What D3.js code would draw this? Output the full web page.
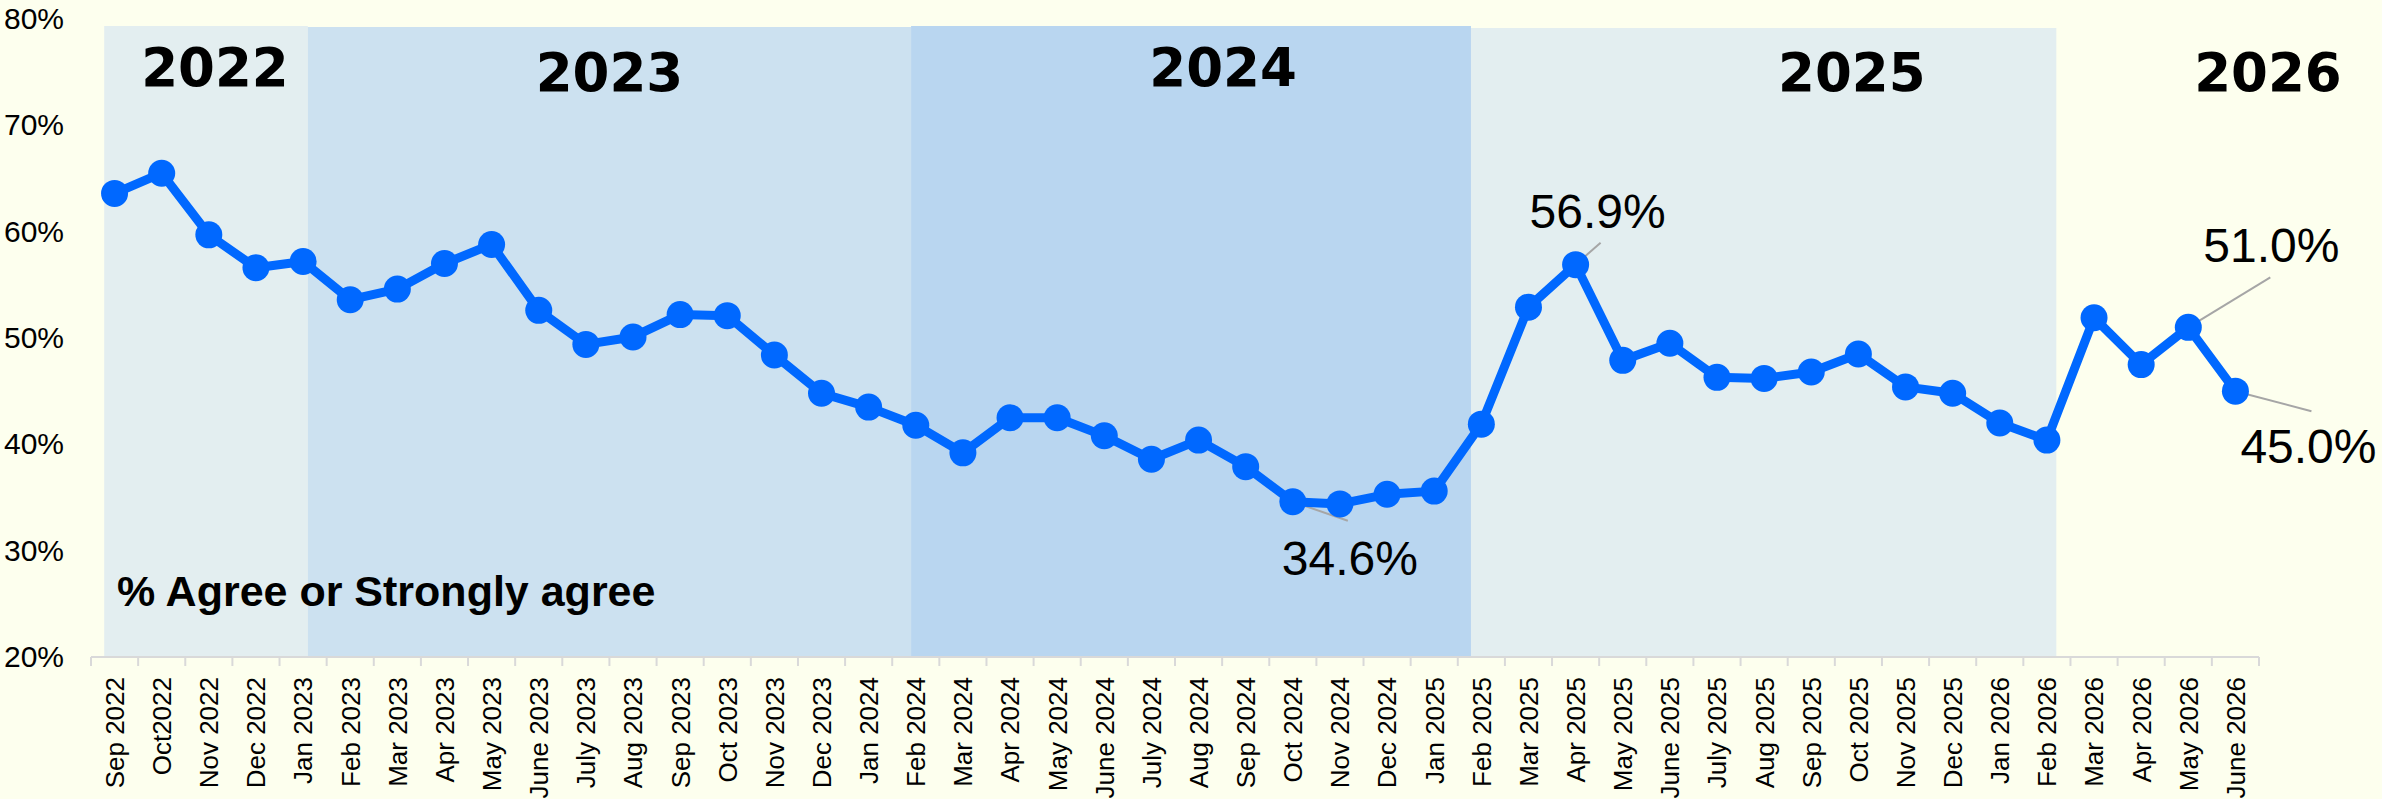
<!DOCTYPE html>
<html>
<head>
<meta charset="utf-8">
<script src="https://cdn.jsdelivr.net/npm/d3@7"></script>
<style>
  body { margin: 0; background: #FDFFEE; }
  svg { display: block; }
</style>
</head>
<body>
<div id="chart"></div>
<script>
// monthly survey, % agree or strongly agree
var months = ["Sep 2022","Oct2022","Nov 2022","Dec 2022",
  "Jan 2023","Feb 2023","Mar 2023","Apr 2023","May 2023","June 2023","July 2023","Aug 2023","Sep 2023","Oct 2023","Nov 2023","Dec 2023",
  "Jan 2024","Feb 2024","Mar 2024","Apr 2024","May 2024","June 2024","July 2024","Aug 2024","Sep 2024","Oct 2024","Nov 2024","Dec 2024",
  "Jan 2025","Feb 2025","Mar 2025","Apr 2025","May 2025","June 2025","July 2025","Aug 2025","Sep 2025","Oct 2025","Nov 2025","Dec 2025",
  "Jan 2026","Feb 2026","Mar 2026","Apr 2026","May 2026","June 2026"];

var values = [63.6,65.5,59.7,56.6,57.2,53.6,54.6,57.0,58.8,52.6,
  49.4,50.1,52.2,52.1,48.4,44.8,43.5,41.8,39.2,42.5,
  42.5,40.8,38.6,40.4,37.9,34.6,34.4,35.3,35.6,41.9,
  52.9,56.9,47.9,49.5,46.3,46.2,46.8,48.5,45.4,44.8,
  42.0,40.4,51.9,47.5,51.0,45.0];

var yTicks = [20, 30, 40, 50, 60, 70, 80];
var years = ["2022", "2023", "2024", "2025", "2026"];
var callouts = [31, 25, 44, 45]; // indexes of labelled months
var seriesLabel = "% Agree or Strongly agree";

var width = 2382,
    height = 799;

var x = d3.scaleBand().domain(months).range([91, 2259]).padding(0);
var y = d3.scaleLinear().domain([20, 80]).range([657, 19]);
// fractional month position -> px (used for shading and year titles)
var xi = d3.scaleLinear().domain([0, months.length]).range(x.range());

var svg = d3.select("#chart").append("svg")
    .attr("width", width)
    .attr("height", height)
    .style("font-family", "'Liberation Sans', Arial, sans-serif");

svg.append("rect").attr("width", width).attr("height", height).attr("fill", "#FDFFEE");

// year shading (hand placed in the original, roughly mid-Jan / mid-Feb)
var shade = [
  {from: 0.28, to: 4.6, top: 26, fill: "#E3EEF0"},
  {from: 4.6, to: 17.4, top: 27, fill: "#CCE1F0"},
  {from: 17.4, to: 29.28, top: 26, fill: "#B9D6F0"},
  {from: 29.28, to: 41.7, top: 28, fill: "#E3EEF0"}
];
svg.append("g").selectAll("rect")
  .data(shade)
  .enter()
  .append("rect")
  .attr("x", d => xi(d.from))
  .attr("width", d => xi(d.to) - xi(d.from))
  .attr("y", d => d.top)
  .attr("height", d => y(20) - 1 - d.top)
  .attr("fill", d => d.fill);

// year titles
var yearPos = [2.63, 11.0, 24.02, 37.36, 46.19];
var yearBase = [86, 91, 86, 91, 91];
svg.append("g").selectAll("text")
  .data(years)
  .enter()
  .append("text")
  .attr("x", (d, i) => xi(yearPos[i]))
  .attr("y", (d, i) => yearBase[i])
  .attr("text-anchor", "middle")
  .style("font-family", "'DejaVu Sans', sans-serif")
  .style("font-weight", "bold")
  .style("font-size", "53px")
  .attr("fill", "#000")
  .text(d => d);

svg.append("text")
  .attr("x", 117)
  .attr("y", 606)
  .style("font-weight", "bold")
  .style("font-size", "43px")
  .attr("fill", "#000")
  .text(seriesLabel);

// y axis labels
var yAxis = svg.append("g")
  .attr("transform", "translate(64,0)")
  .call(d3.axisLeft(y).tickValues(yTicks).tickSize(0).tickPadding(0).tickFormat(d => d + "%"));
yAxis.select(".domain").remove();
yAxis.selectAll("text")
  .style("font-family", "'Liberation Sans', Arial, sans-serif")
  .style("font-size", "30px")
  .attr("fill", "#000");

// x axis
var xAxis = svg.append("g")
  .attr("transform", "translate(0," + y(20) + ")")
  .call(d3.axisBottom(x).tickSize(0).tickPadding(0));
xAxis.select(".domain").remove();
xAxis.selectAll("text")
  .attr("transform", "rotate(-90)")
  .attr("x", -20)
  .attr("y", 0)
  .attr("dy", "0.36em")
  .attr("text-anchor", "end")
  .style("font-family", "'Liberation Sans', Arial, sans-serif")
  .style("font-size", "26px")
  .attr("fill", "#000");

var axisG = svg.append("g").attr("stroke", "#D9D9D9").attr("stroke-width", 2);
axisG.append("line")
  .attr("x1", x.range()[0]).attr("x2", x.range()[1])
  .attr("y1", y(20)).attr("y2", y(20));
axisG.selectAll(".tk")
  .data(months.concat(["end"]))
  .enter()
  .append("line")
  .attr("class", "tk")
  .attr("x1", (d, i) => xi(i)).attr("x2", (d, i) => xi(i))
  .attr("y1", y(20)).attr("y2", y(20) + 9);

// leader lines + callout labels
var cx = i => x(months[i]) + x.bandwidth() / 2;
var lead = {31: [25, -22, 22, -37], 25: [55, 19, 57, 73], 44: [82, -50, 83, -65], 45: [76, 20, 73, 72]};

svg.append("g").selectAll("line")
  .data(callouts)
  .enter()
  .append("line")
  .attr("x1", d => cx(d)).attr("y1", d => y(values[d]))
  .attr("x2", d => cx(d) + lead[d][0]).attr("y2", d => y(values[d]) + lead[d][1])
  .attr("stroke", "#A6A6A6")
  .attr("stroke-width", 2);

// series
var line = d3.line()
  .x((d, i) => cx(i))
  .y(d => y(d));

svg.append("path")
  .datum(values)
  .attr("d", line)
  .attr("fill", "none")
  .attr("stroke", "#0068FF")
  .attr("stroke-width", 9)
  .attr("stroke-linejoin", "round");

svg.append("g").selectAll("circle")
  .data(values)
  .enter()
  .append("circle")
  .attr("cx", (d, i) => cx(i))
  .attr("cy", d => y(d))
  .attr("r", 13.5)
  .attr("fill", "#0068FF");

svg.append("g").selectAll("text")
  .data(callouts)
  .enter()
  .append("text")
  .attr("x", d => cx(d) + lead[d][2])
  .attr("y", d => y(values[d]) + lead[d][3])
  .attr("text-anchor", "middle")
  .style("font-size", "48px")
  .attr("fill", "#000")
  .text(d => values[d].toFixed(1) + "%");
</script>
</body>
</html>
